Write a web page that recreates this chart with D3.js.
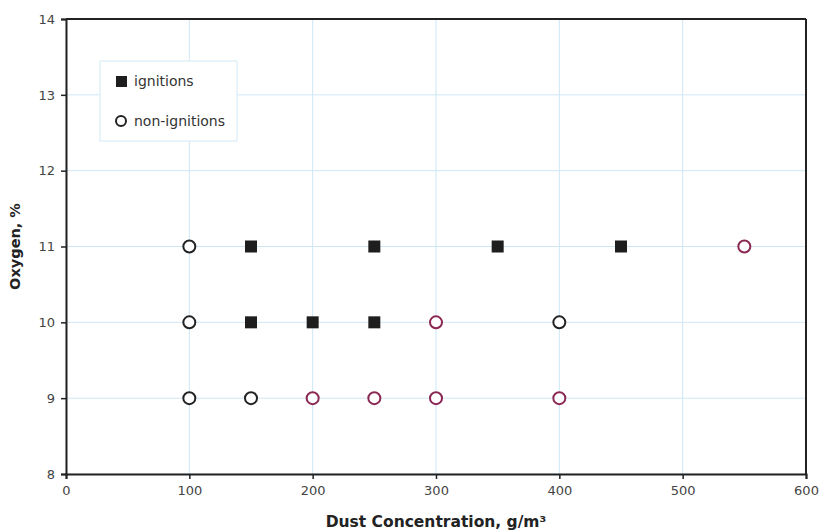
<!DOCTYPE html>
<html>
<head>
<meta charset="utf-8">
<script src="https://cdn.jsdelivr.net/npm/d3@7"></script>
<style>
  body { margin: 0; background: #fff; }
  svg { font-family: "DejaVu Sans", Verdana, sans-serif; }
</style>
</head>
<body>
<div id="chart"></div>
<script>
// data
const xTicks = [0, 100, 200, 300, 400, 500, 600];
const yTicks = [8, 9, 10, 11, 12, 13, 14];

const ignitionX = [150, 250, 350, 450, 150, 200, 250];
const ignitionY = [11, 11, 11, 11, 10, 10, 10];

const nonIgnitionX = [100, 100, 100, 150, 400];
const nonIgnitionY = [11, 10, 9, 9, 10];

// non-ignitions drawn in the dark red colour
const nonIgnitionRedX = [550, 300, 200, 250, 300, 400];
const nonIgnitionRedY = [11, 10, 9, 9, 9, 9];

const legendLabels = ["ignitions", "non-ignitions"];

const margin = { top: 19, right: 14, bottom: 58, left: 66 };
const width = 820 - margin.left - margin.right;
const height = 532 - margin.top - margin.bottom;

const svg = d3.select("#chart")
    .append("svg")
    .attr("width", 820)
    .attr("height", 532)
    .append("g")
    .attr("transform", `translate(${margin.left},${margin.top})`);

const x = d3.scaleLinear().domain([0, 600]).range([0, width]);
const y = d3.scaleLinear().domain([8, 14]).range([height, 0]);

// grid
svg.append("g")
    .selectAll("line")
    .data(xTicks)
    .enter()
    .append("line")
    .attr("x1", d => x(d)).attr("x2", d => x(d))
    .attr("y1", 0).attr("y2", height)
    .attr("stroke", "#cfe7f5")
    .attr("stroke-width", 1);

svg.append("g")
    .selectAll("line")
    .data(yTicks)
    .enter()
    .append("line")
    .attr("y1", d => y(d)).attr("y2", d => y(d))
    .attr("x1", 0).attr("x2", width)
    .attr("stroke", "#cfe7f5")
    .attr("stroke-width", 1);

// axes
const xAxis = svg.append("g")
    .attr("transform", `translate(0,${height})`)
    .call(d3.axisBottom(x).tickValues(xTicks).tickFormat(d3.format("d")).tickSize(5).tickPadding(7));

const yAxis = svg.append("g")
    .call(d3.axisLeft(y).tickValues(yTicks).tickFormat(d3.format("d")).tickSize(5).tickPadding(6));

[xAxis, yAxis].forEach(a => {
    a.attr("font-family", "DejaVu Sans, Verdana, sans-serif");
    a.select(".domain").attr("stroke", "#222").attr("stroke-width", 2);
    a.selectAll(".tick line").attr("stroke", "#222").attr("stroke-width", 1.5);
    a.selectAll("text")
        .style("font-size", "13px")
        .attr("fill", "#444");
});

// top and right frame
svg.append("line")
    .attr("x1", 0).attr("x2", width).attr("y1", 0).attr("y2", 0)
    .attr("stroke", "#222").attr("stroke-width", 2);
svg.append("line")
    .attr("x1", width).attr("x2", width).attr("y1", 0).attr("y2", height)
    .attr("stroke", "#222").attr("stroke-width", 2);

// points
const sq = 12;
svg.selectAll(".ign")
    .data(ignitionX)
    .enter()
    .append("rect")
    .attr("class", "ign")
    .attr("x", d => x(d) - sq / 2)
    .attr("y", (d, i) => y(ignitionY[i]) - sq / 2)
    .attr("width", sq)
    .attr("height", sq)
    .attr("fill", "#1e1e1e");

svg.selectAll(".non")
    .data(nonIgnitionX)
    .enter()
    .append("circle")
    .attr("class", "non")
    .attr("cx", d => x(d))
    .attr("cy", (d, i) => y(nonIgnitionY[i]))
    .attr("r", 6)
    .attr("fill", "#fff")
    .attr("stroke", "#222")
    .attr("stroke-width", 2);

svg.selectAll(".nonred")
    .data(nonIgnitionRedX)
    .enter()
    .append("circle")
    .attr("class", "nonred")
    .attr("cx", d => x(d))
    .attr("cy", (d, i) => y(nonIgnitionRedY[i]))
    .attr("r", 6)
    .attr("fill", "#fff")
    .attr("stroke", "#8a2752")
    .attr("stroke-width", 2);

// legend
const legend = svg.append("g").attr("transform", "translate(34,42)");
legend.append("rect")
    .attr("width", 137).attr("height", 80)
    .attr("fill", "#fff")
    .attr("stroke", "#d4eaf6")
    .attr("stroke-width", 1);
legend.append("rect")
    .attr("x", 16).attr("y", 15).attr("width", 11).attr("height", 11)
    .attr("fill", "#1e1e1e");
legend.append("circle")
    .attr("cx", 21).attr("cy", 60).attr("r", 5)
    .attr("fill", "#fff").attr("stroke", "#222").attr("stroke-width", 2);
legend.selectAll(".ltext")
    .data(legendLabels)
    .enter()
    .append("text")
    .attr("class", "ltext")
    .attr("x", 34)
    .attr("y", (d, i) => 20 + i * 40)
    .attr("dy", "0.35em")
    .style("font-size", "14px")
    .attr("fill", "#333")
    .text(d => d);

// axis titles
svg.append("text")
    .attr("x", width / 2)
    .attr("y", height + 53)
    .attr("text-anchor", "middle")
    .style("font-size", "15.5px")
    .style("font-weight", "bold")
    .attr("fill", "#222")
    .text("Dust Concentration, g/m³");

svg.append("text")
    .attr("transform", "rotate(-90)")
    .attr("x", -height / 2)
    .attr("y", -46)
    .attr("text-anchor", "middle")
    .style("font-size", "14.5px")
    .style("font-weight", "bold")
    .attr("fill", "#222")
    .text("Oxygen, %");
</script>
</body>
</html>
